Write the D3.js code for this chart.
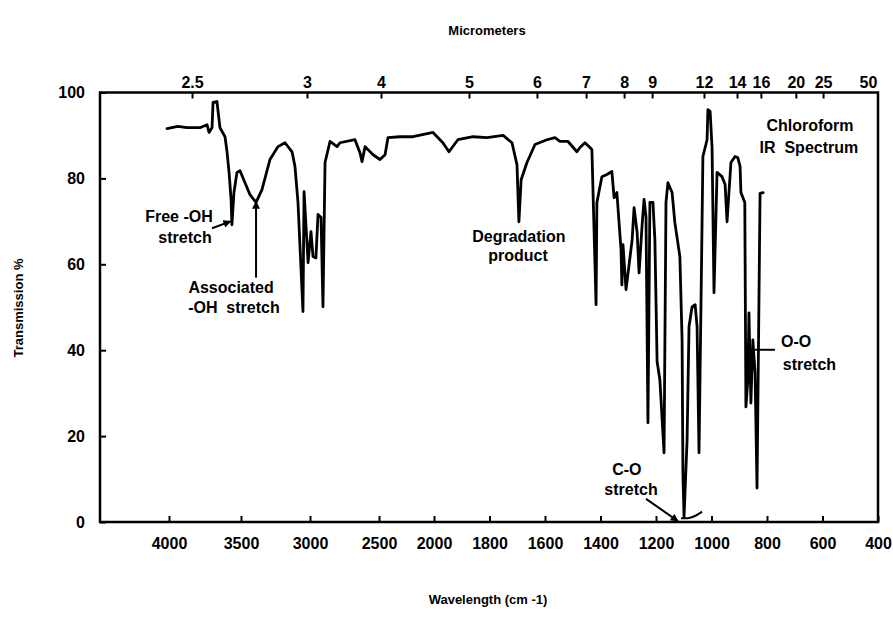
<!DOCTYPE html>
<head>
<meta charset="utf-8">
<title>Chloroform IR Spectrum</title>
<style>
   body {
		   margin: 0;
		   background: #ffffff;
   }

   text {
		   font-family: "Liberation Sans", Arial, Helvetica, sans-serif;
		   font-weight: bold;
		   fill: #000;
   }

   .tick text {
		   font-size: 16px;
   }

   .title {
		   font-size: 13px;
		   text-anchor: middle;
   }

   .note {
		   font-size: 16px;
		   text-anchor: middle;
   }
</style>
</head>
<body>

<div id="chartDiv"></div>

<script src="https://d3js.org/d3.v7.min.js"></script>
<script>

   //	Spectrum (wavenumber in cm-1, transmission in %)

   var wavenumbers = [4014, 3938, 3875, 3785, 3736, 3722, 3701, 3694, 3667, 3646,
	   3611, 3597, 3583, 3569, 3563, 3549, 3528, 3507, 3471, 3435,
	   3391, 3348, 3290, 3232, 3181, 3130, 3109, 3087, 3051, 3043,
	   3014, 2993, 2978, 2957, 2942, 2920, 2906, 2891, 2855, 2804,
	   2783, 2674, 2638, 2623, 2601, 2543, 2491, 2445, 2418, 2309,
	   2191, 2009, 1968, 1946, 1914, 1859, 1809, 1751, 1719, 1701,
	   1694, 1686, 1665, 1636, 1593, 1564, 1546, 1517, 1485, 1474,
	   1456, 1438, 1431, 1416, 1413, 1395, 1377, 1359, 1351, 1341,
	   1326, 1323, 1319, 1308, 1297, 1286, 1279, 1268, 1261, 1250,
	   1243, 1236, 1229, 1222, 1211, 1204, 1196, 1186, 1171, 1164,
	   1157, 1142, 1132, 1114, 1106, 1103, 1099, 1088, 1081, 1070,
	   1059, 1052, 1045, 1034, 1031, 1016, 1013, 1005, 998, 991,
	   980, 962, 951, 944, 930, 915, 905, 897, 894, 880,
	   876, 869, 865, 858, 851, 843, 836, 825, 814];

   var transmission = [91.6, 92.1, 91.8, 91.8, 92.5, 90.7, 91.8, 97.7, 97.9, 91.8,
	   89.7, 86.2, 81.4, 75.1, 69.2, 76.7, 81.4, 81.8, 79.0, 76.2,
	   74.4, 77.4, 84.4, 87.4, 88.3, 86.2, 82.8, 74.4, 49.0, 76.9,
	   60.4, 67.6, 61.8, 61.5, 71.6, 70.9, 50.1, 83.7, 88.6, 87.4,
	   88.3, 89.0, 86.0, 83.9, 87.4, 85.5, 84.4, 85.5, 89.5, 89.7,
	   89.7, 90.7, 88.3, 86.2, 89.0, 89.7, 89.5, 90.0, 88.3, 83.2,
	   69.9, 79.7, 83.7, 87.9, 89.0, 89.5, 88.6, 88.6, 86.2, 87.2,
	   88.3, 87.2, 86.7, 50.6, 74.4, 80.4, 80.9, 81.6, 75.5, 76.7,
	   63.4, 55.2, 64.6, 54.1, 59.9, 65.7, 73.2, 67.4, 58.0, 69.2,
	   75.1, 71.1, 23.1, 74.4, 74.4, 65.7, 37.3, 33.1, 16.1, 74.4,
	   79.0, 76.7, 69.7, 61.8, 42.4, 11.4, 1.2, 19.1, 45.5, 50.1,
	   50.6, 45.5, 16.1, 69.7, 85.1, 89.0, 96.0, 95.6, 87.2, 53.4,
	   81.4, 80.4, 78.6, 69.9, 83.7, 85.1, 84.8, 82.8, 76.7, 74.4,
	   26.8, 33.1, 48.7, 27.7, 42.4, 34.7, 7.9, 76.5, 76.7];

   //	Axis ticks

   var bottomTicks = [4000, 3500, 3000, 2500, 2000, 1800, 1600, 1400, 1200, 1000, 800, 600, 400];
   var yTicks = [0, 20, 40, 60, 80, 100];
   var topTickLabels = ["2.5", "3", "4", "5", "6", "7", "8", "9", "12", "14", "16", "20", "25", "50"];
   // where the micrometer ticks sit on the printed wavenumber axis
   var topTickAt = [3840, 3022, 2482, 1874, 1629, 1452, 1315, 1214, 1027, 908, 822, 696, 598, 436];

   //	Annotations (positions in wavenumber / transmission)

   var noteText = ["Free -OH", "stretch", "Associated", "-OH\u00a0\u00a0stretch", "Degradation", "product",
	   "C-O", "stretch", "O-O", "stretch", "Chloroform", "IR\u00a0\u00a0Spectrum"];
   var noteX = [3931, 3889, 3569, 3549, 1694, 1697, 1305, 1290, 695, 647, 645, 649];
   var noteY = [69.9, 65.0, 53.4, 48.7, 65.3, 60.8, 10.9, 6.3, 40.8, 35.4, 91.0, 85.9];

   var width = 893;
   var height = 623;
   var plotLeft = 100, plotRight = 878, plotTop = 92.5, plotBottom = 522;

   var svg = d3.select("#chartDiv")
	 .append("svg")
	   .attr("width", width)
	   .attr("height", height);

   // the printed axis is compressed above 2000 cm-1 and unevenly spaced
   var x = d3.scaleLinear()
	   .domain([4000, 3500, 3000, 2500, 2000, 400])
	   .range([169, 241, 310, 379, 434, plotRight]);

   var y = d3.scaleLinear()
	   .domain([0, 100])
	   .range([plotBottom, plotTop]);

   var defs = svg.append("defs");
   defs.append("marker")
	   .attr("id", "head")
	   .attr("viewBox", "0 0 10 10")
	   .attr("refX", 9)
	   .attr("refY", 5)
	   .attr("markerWidth", 4)
	   .attr("markerHeight", 4)
	   .attr("orient", "auto")
	 .append("path")
	   .attr("d", "M0,0L10,5L0,10Z")
	   .attr("fill", "#000");

   //	Axes

   var gBottom = svg.append("g")
	   .attr("transform", "translate(0," + plotBottom + ")")
	   .call(d3.axisBottom(x)
		   .tickValues(bottomTicks)
		   .tickFormat(d3.format("d"))
		   .tickSize(-6)
		   .tickPadding(16));

   var gTop = svg.append("g")
	   .attr("transform", "translate(0," + plotTop + ")")
	   .call(d3.axisTop(x)
		   .tickValues(topTickAt)
		   .tickFormat(function(d, i) { return topTickLabels[i]; })
		   .tickSize(-6)
		   .tickPadding(5));

   gTop.selectAll(".tick line")
	   .filter(function(d, i) { return i === topTickAt.length - 1; })
	   .remove();

   var gLeft = svg.append("g")
	   .attr("transform", "translate(" + plotLeft + ",0)")
	   .call(d3.axisLeft(y)
		   .tickValues(yTicks)
		   .tickSize(-6)
		   .tickPadding(15));

   svg.selectAll(".domain").remove();
   svg.selectAll(".tick line")
	   .attr("stroke", "#000")
	   .attr("stroke-width", 2);
   svg.selectAll(".tick text")
	   .attr("font-family", null)
	   .attr("font-size", null);

   svg.append("rect")
	   .attr("x", plotLeft)
	   .attr("y", plotTop)
	   .attr("width", plotRight - plotLeft)
	   .attr("height", plotBottom - plotTop)
	   .attr("fill", "none")
	   .attr("stroke", "#000")
	   .attr("stroke-width", 2.5);

   //	Titles

   svg.append("text")
	   .attr("class", "title")
	   .attr("x", 487)
	   .attr("y", 35)
	   .text("Micrometers");

   svg.append("text")
	   .attr("class", "title")
	   .attr("x", 488)
	   .attr("y", 604)
	   .text("Wavelength (cm -1)");

   svg.append("text")
	   .attr("class", "title")
	   .attr("transform", "translate(23,308) rotate(-90)")
	   .text("Transmission %");

   //	Spectrum

   var line = d3.line()
	   .x(function(d) { return x(d); })
	   .y(function(d, i) { return y(transmission[i]); });

   svg.append("path")
	   .attr("d", line(wavenumbers))
	   .attr("fill", "none")
	   .attr("stroke", "#000")
	   .attr("stroke-width", 2.8)
	   .attr("stroke-linejoin", "round")
	   .attr("stroke-linecap", "round");

   //	Annotations

   svg.selectAll(".note")
	   .data(noteText)
	   .enter().append("text")
	   .attr("class", "note")
	   .attr("x", function(d, i) { return x(noteX[i]); })
	   .attr("y", function(d, i) { return y(noteY[i]); })
	   .text(function(d) { return d; });

   // arrows: [from wavenumber, from %, to wavenumber, to %, head]
   var arrows = [
	   [3701, 68.4, 3572, 70.0, true],
	   [3391, 56.9, 3391, 74.6, true],
	   [1236, 5.4, 1121, 0.2, true],
	   [843, 40.1, 771, 40.1, false]
   ];

   svg.selectAll(".arrow")
	   .data(arrows)
	   .enter().append("line")
	   .attr("class", "arrow")
	   .attr("x1", function(d) { return x(d[0]); })
	   .attr("y1", function(d) { return y(d[1]); })
	   .attr("x2", function(d) { return x(d[2]); })
	   .attr("y2", function(d) { return y(d[3]); })
	   .attr("stroke", "#000")
	   .attr("stroke-width", 2)
	   .attr("marker-end", function(d) { return d[4] ? "url(#head)" : null; });

   // little curl at the foot of the C-O band
   var hookW = [1110, 1085, 1063, 1034];
   var hookT = [0.9, 0.8, 1.2, 2.4];
   svg.append("path")
	   .attr("d", d3.line()
		   .curve(d3.curveBasis)
		   .x(function(d) { return x(d); })
		   .y(function(d, i) { return y(hookT[i]); })(hookW))
	   .attr("fill", "none")
	   .attr("stroke", "#000")
	   .attr("stroke-width", 2);

</script>
</body>
